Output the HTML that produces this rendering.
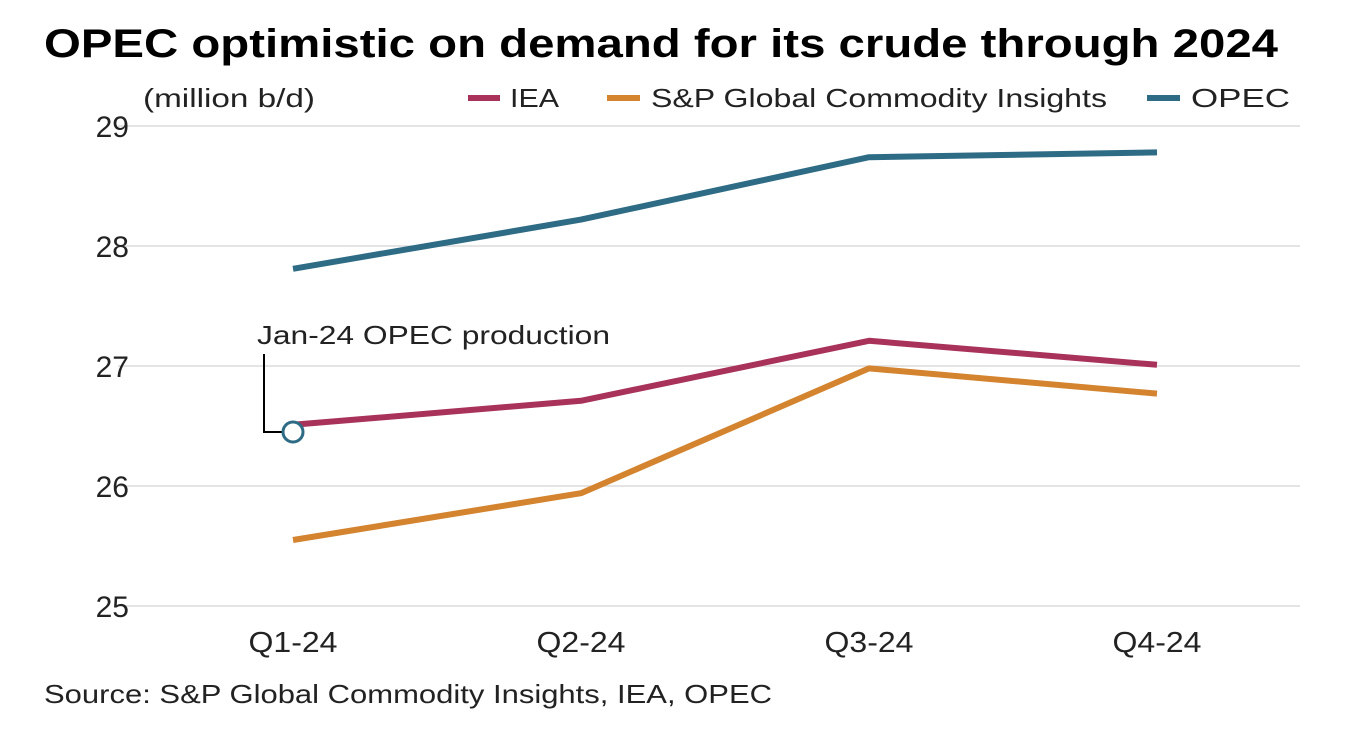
<!DOCTYPE html>
<html><head><meta charset="utf-8"><style>
html,body{margin:0;padding:0;background:#fff;}
svg{display:block;font-family:"Liberation Sans",sans-serif;}
</style></head><body>
<svg id="chart" width="1358" height="732">
<text x="44" y="57" font-size="40" font-weight="bold" fill="#000" textLength="1234" lengthAdjust="spacingAndGlyphs">OPEC optimistic on demand for its crude through 2024</text>
<text x="143" y="107" font-size="26" fill="#222" textLength="172" lengthAdjust="spacingAndGlyphs">(million b/d)</text>
<g>
<line x1="468" y1="98" x2="500" y2="98" stroke="#a8325a" stroke-width="6"/>
<text x="510" y="107" font-size="26" fill="#222" textLength="49" lengthAdjust="spacingAndGlyphs">IEA</text>
<line x1="607" y1="98" x2="640" y2="98" stroke="#d4832e" stroke-width="6"/>
<text x="651" y="107" font-size="26" fill="#222" textLength="456" lengthAdjust="spacingAndGlyphs">S&amp;P Global Commodity Insights</text>
<line x1="1147" y1="98" x2="1180" y2="98" stroke="#2e6b85" stroke-width="6"/>
<text x="1191" y="107" font-size="26" fill="#222" textLength="99" lengthAdjust="spacingAndGlyphs">OPEC</text>
</g>
<g id="grid"></g><g id="ylabels"></g><g id="xlabels"></g>
<path d="M293,432 H264 V354" fill="none" stroke="#000" stroke-width="2"/>
<text x="257" y="344" font-size="26" fill="#222" textLength="353" lengthAdjust="spacingAndGlyphs">Jan-24 OPEC production</text>
<g id="series"></g>
<circle id="marker" r="10" fill="#fff" stroke="#2e6b85" stroke-width="3"/>
<text x="44" y="703" font-size="26" fill="#222" textLength="728" lengthAdjust="spacingAndGlyphs">Source: S&amp;P Global Commodity Insights, IEA, OPEC</text>
</svg>
<script>
const categories = ["Q1-24","Q2-24","Q3-24","Q4-24"];
const yTicks = [25,26,27,28,29];
const iea = [26.51,26.71,27.21,27.01];
const sp = [25.55,25.94,26.98,26.77];
const opec = [27.81,28.22,28.74,28.78];
const janProduction = 26.45;
const NS="http://www.w3.org/2000/svg";
const x = i => 293 + i*288;
const y = v => 606 - (v-25)*120;
function mk(tag, attrs, parent){const e=document.createElementNS(NS,tag);for(const k in attrs)e.setAttribute(k,attrs[k]);document.getElementById(parent).appendChild(e);return e;}
yTicks.forEach(t=>{
  const l=mk('line',{x1:118,x2:1300,y1:y(t),y2:y(t),stroke:'#d4d4d4','stroke-width':1.2},'grid');
  
  
  const tx=mk('text',{x:129,y:y(t)+11,'font-size':30,'text-anchor':'end',fill:'#222'},'ylabels');
  tx.textContent=t;
  
  
});
categories.forEach((c,i)=>{
  const tx=mk('text',{x:x(i),y:652,'font-size':29,'text-anchor':'middle',fill:'#222',textLength:89,lengthAdjust:'spacingAndGlyphs'},'xlabels');
  tx.textContent=c;
  
  
});
[[opec,'#2e6b85','opec'],[iea,'#a8325a','iea'],[sp,'#d4832e','sp']].forEach(([d,col,n])=>{
  const p=mk('polyline',{points:d.map((v,i)=>x(i)+','+y(v)).join(' '),fill:'none',stroke:col,'stroke-width':6,'stroke-linejoin':'round'},'series');
  
  
});
const m=document.getElementById('marker');
m.setAttribute('cx',x(0));m.setAttribute('cy',y(janProduction));
</script>
</body></html>
